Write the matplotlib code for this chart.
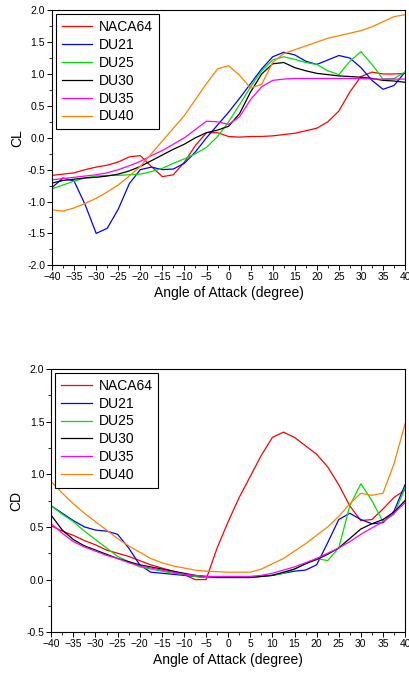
import numpy as np
import matplotlib

matplotlib.use('Agg')
import matplotlib.pyplot as plt
from matplotlib.ticker import MultipleLocator

plt.rcParams['font.family'] = ['Liberation Sans', 'DejaVu Sans']

# angle of attack grid (degree), shared by every series
aoa = np.arange(-40, 40.01, 2.5)

names = ['NACA64', 'DU21', 'DU25', 'DU30', 'DU35', 'DU40']
colors = ['#ff0000', '#0000ff', '#00e000', '#000000', '#ff00ff', '#ff8000']

cl_naca64 = [-0.59, -0.57, -0.55, -0.50, -0.46, -0.43, -0.38, -0.30, -0.28, -0.45, -0.61,
             -0.58, -0.38, -0.12, 0.08, 0.08, 0.02, 0.01, 0.02, 0.02, 0.03, 0.05, 0.07,
             0.11, 0.15, 0.25, 0.42, 0.72, 0.96, 1.03, 1.00, 1.00, 1.01]
cl_du21 = [-0.78, -0.63, -0.68, -1.05, -1.50, -1.42, -1.12, -0.72, -0.50, -0.46, -0.50,
           -0.49, -0.40, -0.22, 0.00, 0.20, 0.40, 0.62, 0.85, 1.08, 1.27, 1.34, 1.30,
           1.20, 1.15, 1.22, 1.29, 1.25, 1.10, 0.90, 0.76, 0.82, 1.03]
cl_du25 = [-0.80, -0.74, -0.68, -0.63, -0.60, -0.59, -0.59, -0.58, -0.57, -0.53, -0.48,
           -0.40, -0.33, -0.25, -0.15, 0.02, 0.25, 0.52, 0.80, 1.05, 1.22, 1.27, 1.23,
           1.18, 1.15, 1.05, 0.99, 1.20, 1.35, 1.15, 0.92, 0.93, 1.03]
cl_du30 = [-0.71, -0.67, -0.65, -0.63, -0.62, -0.60, -0.57, -0.52, -0.45, -0.36, -0.27,
           -0.18, -0.10, 0.00, 0.08, 0.12, 0.18, 0.38, 0.72, 1.00, 1.16, 1.18, 1.10,
           1.05, 1.01, 0.99, 0.97, 0.96, 0.95, 0.93, 0.90, 0.89, 0.87]
cl_du35 = [-0.66, -0.64, -0.62, -0.60, -0.58, -0.55, -0.50, -0.44, -0.37, -0.28, -0.20,
           -0.10, 0.00, 0.13, 0.26, 0.25, 0.21, 0.33, 0.60, 0.80, 0.90, 0.92, 0.93,
           0.93, 0.93, 0.93, 0.93, 0.93, 0.93, 0.92, 0.92, 0.92, 0.92]
cl_du40 = [-1.13, -1.15, -1.10, -1.03, -0.95, -0.85, -0.74, -0.60, -0.45, -0.25, -0.05,
           0.15, 0.35, 0.60, 0.85, 1.08, 1.13, 0.98, 0.78, 0.84, 1.18, 1.32, 1.38,
           1.44, 1.50, 1.56, 1.60, 1.64, 1.68, 1.74, 1.82, 1.90, 1.93]

cd_naca64 = [0.51, 0.46, 0.42, 0.37, 0.33, 0.28, 0.25, 0.22, 0.18, 0.14, 0.11, 0.08, 0.05,
             0.00, 0.00, 0.30, 0.55, 0.78, 0.98, 1.18, 1.35, 1.40, 1.35, 1.27, 1.19, 1.07,
             0.90, 0.70, 0.56, 0.57, 0.67, 0.78, 0.85]
cd_du21 = [0.70, 0.63, 0.56, 0.50, 0.47, 0.46, 0.43, 0.30, 0.14, 0.07, 0.06, 0.05, 0.04,
           0.03, 0.02, 0.02, 0.02, 0.02, 0.02, 0.03, 0.04, 0.06, 0.08, 0.09, 0.14, 0.35,
           0.57, 0.63, 0.57, 0.53, 0.54, 0.65, 0.90]
cd_du25 = [0.70, 0.62, 0.55, 0.46, 0.38, 0.30, 0.22, 0.17, 0.12, 0.10, 0.08, 0.06, 0.05,
           0.03, 0.02, 0.02, 0.02, 0.02, 0.02, 0.03, 0.04, 0.06, 0.10, 0.15, 0.20, 0.18,
           0.30, 0.70, 0.91, 0.75, 0.55, 0.62, 0.87]
cd_du30 = [0.61, 0.47, 0.38, 0.32, 0.28, 0.24, 0.20, 0.17, 0.14, 0.12, 0.10, 0.08, 0.06,
           0.04, 0.03, 0.02, 0.02, 0.02, 0.02, 0.03, 0.04, 0.07, 0.10, 0.15, 0.19, 0.24,
           0.30, 0.39, 0.48, 0.53, 0.57, 0.64, 0.75]
cd_du35 = [0.53, 0.44, 0.36, 0.31, 0.27, 0.23, 0.20, 0.16, 0.13, 0.11, 0.09, 0.07, 0.05,
           0.04, 0.03, 0.03, 0.03, 0.03, 0.03, 0.04, 0.06, 0.09, 0.12, 0.16, 0.20, 0.25,
           0.30, 0.36, 0.43, 0.49, 0.55, 0.63, 0.73]
cd_du40 = [0.93, 0.82, 0.72, 0.63, 0.55, 0.47, 0.39, 0.32, 0.26, 0.20, 0.16, 0.13, 0.11,
           0.09, 0.08, 0.075, 0.07, 0.07, 0.07, 0.10, 0.15, 0.20, 0.27, 0.34, 0.42, 0.50,
           0.60, 0.72, 0.82, 0.80, 0.82, 1.10, 1.48]

cl_all = [cl_naca64, cl_du21, cl_du25, cl_du30, cl_du35, cl_du40]
cd_all = [cd_naca64, cd_du21, cd_du25, cd_du30, cd_du35, cd_du40]


def panel(ax, series, ylabel, ylim):
    for name, vals, c in zip(names, series, colors):
        ax.plot(aoa, vals, color=c, lw=0.9, label=name)
    ax.set_xlim(-40, 40)
    ax.set_ylim(*ylim)
    ax.xaxis.set_major_locator(MultipleLocator(5))
    ax.xaxis.set_minor_locator(MultipleLocator(2.5))
    ax.yaxis.set_major_locator(MultipleLocator(0.5))
    ax.yaxis.set_minor_locator(MultipleLocator(0.25))
    ax.yaxis.set_major_formatter(lambda v, p: f'{v:.1f}')
    ax.tick_params(which='major', direction='out', length=3.5, width=0.7, labelsize=7.5, pad=1.5)
    ax.tick_params(which='minor', direction='out', length=2, width=0.6)
    for s in ax.spines.values():
        s.set_linewidth(0.8)
    ax.set_xlabel('Angle of Attack (degree)', fontsize=10, labelpad=3)
    ax.set_ylabel(ylabel, fontsize=10, labelpad=2)
    leg = ax.legend(loc='upper left', fontsize=10, handlelength=2.2, handletextpad=0.5,
                    labelspacing=0.28, borderpad=0.4, fancybox=False, framealpha=1,
                    edgecolor='black', borderaxespad=0.3)
    leg.get_frame().set_linewidth(0.8)


fig = plt.figure(figsize=(4.1, 6.82), dpi=100)
ax1 = fig.add_axes([0.127, 0.611, 0.861, 0.374])
ax2 = fig.add_axes([0.125, 0.073, 0.863, 0.386])

panel(ax1, cl_all, 'CL', (-2.0, 2.0))
panel(ax2, cd_all, 'CD', (-0.5, 2.0))

fig.savefig('out.png', dpi=100)
